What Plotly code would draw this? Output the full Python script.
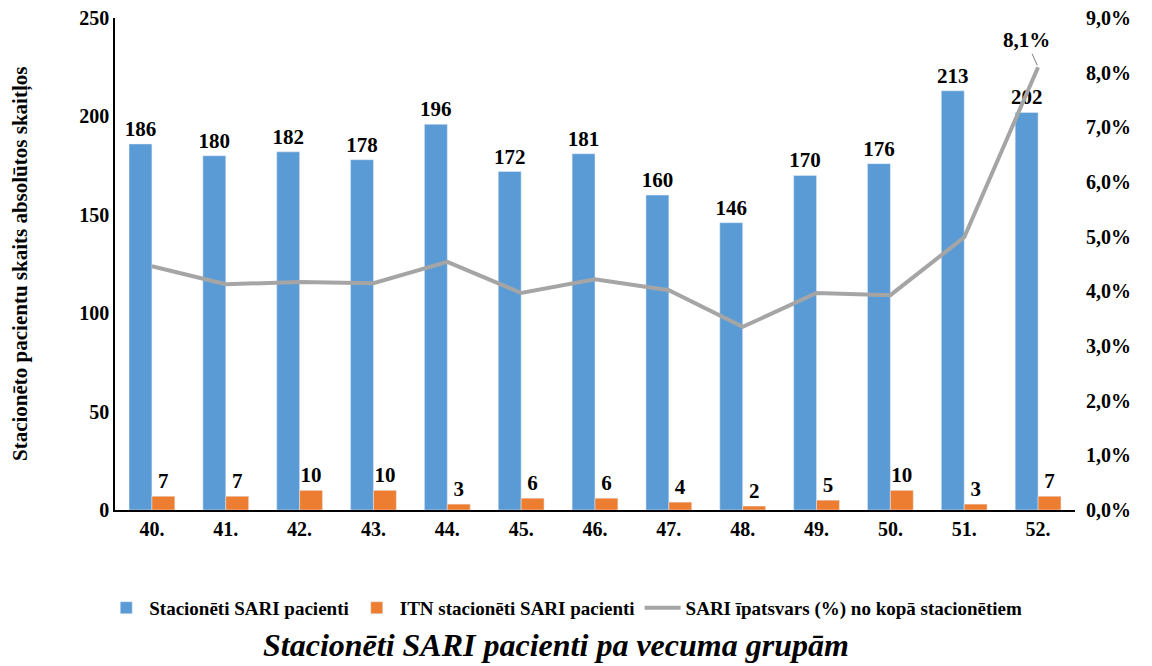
import plotly.graph_objects as go

categories = ["40.", "41.", "42.", "43.", "44.", "45.", "46.", "47.", "48.", "49.", "50.", "51.", "52."]
sari_patients = [186, 180, 182, 178, 196, 172, 181, 160, 146, 170, 176, 213, 202]
itn_patients = [7, 7, 10, 10, 3, 6, 6, 4, 2, 5, 10, 3, 7]
sari_share = [4.46, 4.13, 4.17, 4.15, 4.54, 3.97, 4.22, 4.02, 3.35, 3.97, 3.93, 4.99, 8.1]
pct_ticks = [0, 1, 2, 3, 4, 5, 6, 7, 8, 9]

FONT = "Liberation Serif"
LABEL_FONT = dict(family=FONT, size=21, color="black", weight="bold")
TICK_FONT = dict(family=FONT, size=20, color="black", weight="bold")

fig = go.Figure()
fig.add_trace(go.Bar(
    x=categories, y=sari_patients, name="Stacionēti SARI pacienti",
    marker_color="#5B9BD5", text=[str(v) for v in sari_patients],
    textposition="outside", cliponaxis=False, constraintext="none",
    textfont=LABEL_FONT,
))
fig.add_trace(go.Bar(
    x=categories, y=itn_patients, name="ITN stacionēti SARI pacienti",
    marker_color="#ED7D31", text=[str(v) for v in itn_patients],
    textposition="outside", cliponaxis=False, constraintext="none",
    textfont=LABEL_FONT,
))
fig.add_trace(go.Scatter(
    x=categories, y=sari_share, name="SARI īpatsvars (%) no kopā stacionētiem",
    mode="lines", line=dict(color="#A5A5A5", width=4), yaxis="y2",
))

last = len(categories) - 1
fig.add_annotation(
    x=last, y=sari_share[last], xref="x", yref="y2",
    text="8,1%", showarrow=True, arrowhead=0, arrowwidth=1, arrowcolor="#7F7F7F",
    ax=-12, ay=-27, standoff=2, xanchor="center", yanchor="middle",
    font=LABEL_FONT,
)

fig.add_annotation(
    x=0, y=0.5, xref="paper", yref="paper", showarrow=False, xshift=-95,
    textangle=-90, xanchor="center", yanchor="middle",
    text="Stacionēto pacientu skaits absolūtos skaitļos",
    font=dict(family=FONT, size=21, color="black", weight="bold"),
)

fig.add_annotation(
    x=0.459, y=-0.274, xref="paper", yref="paper", showarrow=False,
    text="<b><i>Stacionēti SARI pacienti pa vecuma grupām</i></b>",
    font=dict(family=FONT, size=32, color="black"), yanchor="middle",
)

fig.update_layout(
    width=1144, height=658,
    margin=dict(l=107, r=77, t=10, b=156, autoexpand=False),
    plot_bgcolor="white", paper_bgcolor="white",
    barmode="group", bargap=0.38, bargroupgap=0,
    font=dict(family=FONT, color="black"),
    showlegend=True,
    legend=dict(orientation="h", x=0.469, xanchor="center", y=-0.199, yanchor="middle",
                font=dict(family=FONT, size=19, color="black", weight="bold"),
                traceorder="normal", itemwidth=36),
    xaxis=dict(type="category", range=[-0.5, len(categories) - 0.5],
               showline=True, linecolor="black", linewidth=1.5, ticks="",
               tickfont=TICK_FONT, showgrid=False, automargin=False),
    yaxis=dict(range=[0, 250], dtick=50, showline=True, linecolor="black", linewidth=1.5,
               showgrid=False, zeroline=False, ticks="", automargin=False,
               ticklabeloverflow="allow", tickfont=TICK_FONT),
    yaxis2=dict(range=[0, 9], overlaying="y", side="right", showgrid=False,
                zeroline=False, showline=False, ticks="", automargin=False,
                ticklabeloverflow="allow", ticklabelstandoff=10,
                tickvals=pct_ticks,
                ticktext=[f"{v},0%" for v in pct_ticks],
                tickfont=TICK_FONT),
)

fig.write_html("out.html")
